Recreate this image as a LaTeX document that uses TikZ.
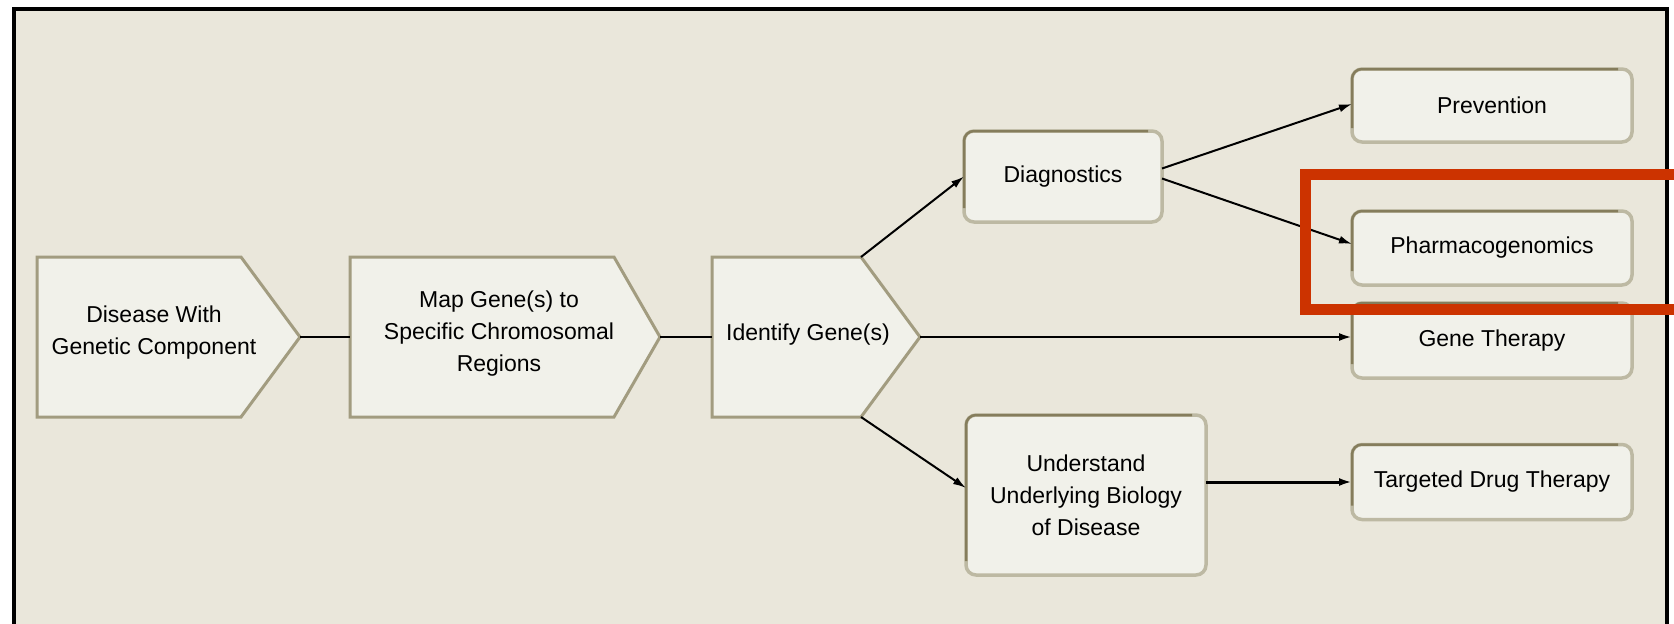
\documentclass[tikz,border=0pt]{standalone}
\usepackage{fontspec}
\setmainfont{Liberation Sans}
\usetikzlibrary{arrows.meta,calc}
\definecolor{bgc}{HTML}{EAE7DB}
\definecolor{boxfill}{HTML}{F1F1EA}
\definecolor{darkedge}{HTML}{857D5C}
\definecolor{lightedge}{HTML}{BDB9A3}
\definecolor{pentaedge}{HTML}{A29C80}
\definecolor{hl}{HTML}{CC3300}
\newcommand\topleftedge[1]{\draw[darkline] ([xshift=-14pt]#1.north east) -- (#1.north west) -- ([yshift=14pt]#1.south west);}
\begin{document}
\begin{tikzpicture}[x=1pt,y=-1pt,
  txt/.style={align=center,font=\fontsize{23}{32}\selectfont,inner sep=0pt},
  penta/.style={draw=pentaedge,line width=3pt,fill=boxfill,line join=miter},
  rbox/.style={draw=lightedge,line width=3.5pt,fill=boxfill,rounded corners=10pt,outer sep=0pt,inner sep=0pt,align=center,font=\fontsize{23}{32}\selectfont},
  darkline/.style={draw=darkedge,line width=2.5pt,rounded corners=10pt},
  conn/.style={draw=black,line width=2pt},
  arr/.style={draw=black,line width=2pt,-{Latex[length=13pt,width=8pt]}}]
\useasboundingbox (0,0) rectangle (1674,624);
% background and frame
\fill[bgc] (14,8.5) rectangle (1667,630);
\draw[black,line width=4pt] (14,640) -- (14,8.5) -- (1667,8.5) -- (1667,640);
% pentagon nodes
\draw[penta] (37,257) -- (241,257) -- (300,337) -- (241,417) -- (37,417) -- cycle;
\draw[penta] (350,257) -- (614,257) -- (660,337) -- (614,417) -- (350,417) -- cycle;
\draw[penta] (712,257) -- (861,257) -- (920,337) -- (861,417) -- (712,417) -- cycle;
\coordinate (dtip) at (300,337);
\coordinate (mapL) at (350,337);
\coordinate (mtip) at (660,337);
\coordinate (idL) at (712,337);
\coordinate (idNE) at (861,257);
\coordinate (idSE) at (861,417);
\coordinate (idtip) at (920,337);
\node[txt] (dis) at (154,333) {Disease With\\Genetic Component};
\node[txt] (map) at (499,334) {Map Gene(s) to\\Specific Chromosomal\\Regions};
\node[txt] (ident) at (808,335) {Identify Gene(s)};
% rounded boxes
\node[rbox,minimum width=198pt,minimum height=91pt] (diag) at (1063,176.5) {Diagnostics};
\node[rbox,minimum width=240pt,minimum height=160pt] (und) at (1086,495) {Understand\\Underlying Biology\\of Disease};
\node[rbox,minimum width=280pt,minimum height=73pt] (prev) at (1492,105.5) {Prevention};
\node[rbox,minimum width=280pt,minimum height=74pt] (pharm) at (1492,248) {Pharmacogenomics};
\node[rbox,minimum width=280pt,minimum height=75pt] (gene) at (1492,340.5) {Gene Therapy};
\node[rbox,minimum width=280pt,minimum height=75pt] (targ) at (1492,482) {Targeted Drug Therapy};
\topleftedge{diag}
\topleftedge{und}
\topleftedge{prev}
\topleftedge{pharm}
\topleftedge{gene}
\topleftedge{targ}
% connectors
\draw[conn] (dtip) -- (mapL);
\draw[conn] (mtip) -- (idL);
\draw[arr] (idNE) -- (diag.west);
\draw[arr] (idSE) -- ([yshift=7pt]und.west);
\draw[arr,line width=2.5pt] (idtip) -- (gene.west |- idtip);
\draw[arr] ([yshift=8pt]diag.east) -- ([yshift=1.5pt]prev.west);
\draw[arr] ([yshift=-2pt]diag.east) -- ([yshift=4pt]pharm.west);
\draw[arr,line width=3pt] (und.east |- targ.west) -- (targ.west);
% highlight
\draw[hl,line width=11pt] (1305.5,174) rectangle (1720,309.5);
\end{tikzpicture}
\end{document}
